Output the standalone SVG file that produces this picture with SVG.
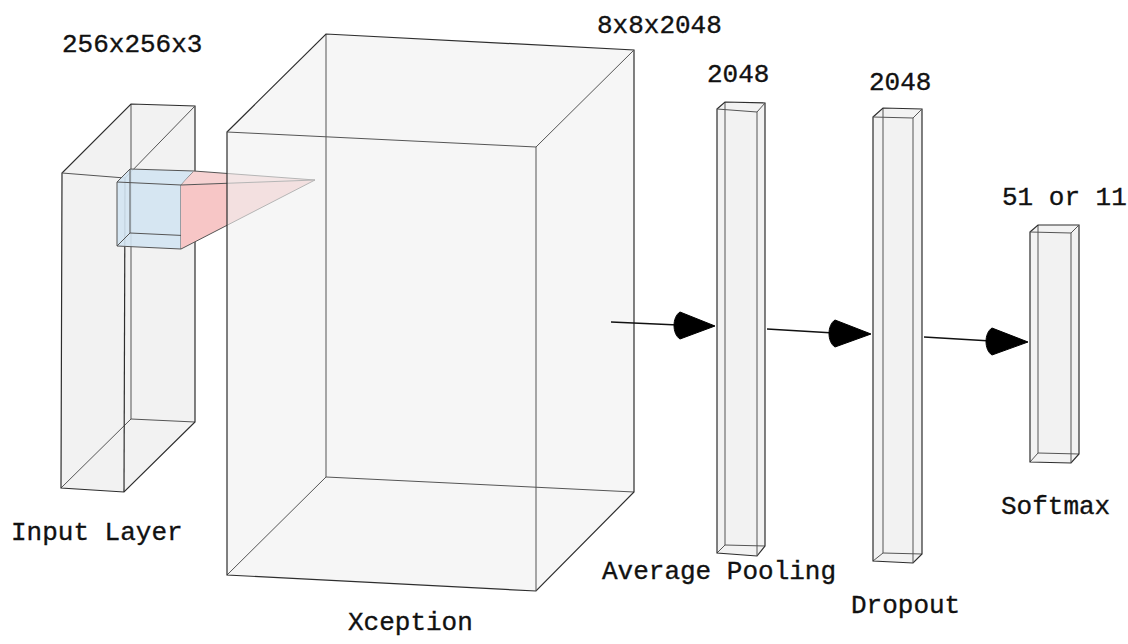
<svg xmlns="http://www.w3.org/2000/svg" width="1128" height="644" viewBox="0 0 1128 644">
  <style>
    .hull { fill: #f2f2f2; stroke: none; }
    .edge { fill: none; stroke: #555; stroke-width: 1; }
    .edge-front { fill: none; stroke: #2e2e2e; stroke-width: 1.2; }
    .label { font-family: "Liberation Mono", "DejaVu Sans Mono", monospace; font-size: 26px; fill: #111; stroke: #111; stroke-width: 0.35; }
    .conn { stroke: #111; stroke-width: 1.3; fill: none; }
    .head { fill: #000; stroke: #000; stroke-width: 1; stroke-linejoin: round; }
  </style>
  <rect width="1128" height="644" fill="#ffffff"/>

  <!-- Input layer block -->
  <g id="input-layer">
    <polygon class="hull" points="62,173 131,104 195,106 195,422 124,492 61,488"/>
    <polyline class="edge" points="131,104 131,419 61,488"/>
    <line class="edge" x1="131" y1="419" x2="195" y2="422"/>
    <polygon class="edge-front" points="131,104 195,106 195,422 124,492 61,488 62,173"/>
    <line class="edge" x1="62" y1="173" x2="125" y2="178"/>
    <line class="edge" x1="125" y1="178" x2="195" y2="106"/>
    <line class="edge-front" x1="125" y1="178" x2="124" y2="492"/>
    <text class="label" x="62" y="52">256x256x3</text>
    <text class="label" x="11" y="540">Input Layer</text>
  </g>

  <!-- Convolution window (blue kernel cube) -->
  <g id="kernel">
    <polygon points="117,182 130,169 194,171 194,236 181,249 117,246" fill="#d3e4f2" fill-opacity="0.9"/>
    <polyline class="edge" points="130,169 130,233 117,246" stroke="#8a8a8a"/>
    <line class="edge" x1="130" y1="233" x2="194" y2="236" stroke="#8a8a8a"/>
    <polygon class="edge" points="117,182 181,185 181,249 117,246"/>
    <polyline class="edge" points="117,182 130,169 194,171 181,185"/>
    <line class="edge" x1="194" y1="171" x2="194" y2="236"/>
    <line class="edge" x1="194" y1="236" x2="181" y2="249"/>
  </g>

  <!-- Receptive field projection -->
  <g id="projection">
    <polygon points="181,185 194,171 315,180" fill="#f6d2d2"/>
    <polygon points="181,185 315,180 181,249" fill="#f7c6c6"/>
    <line class="edge" x1="181" y1="185" x2="315" y2="180"/>
    <line class="edge" x1="194" y1="171" x2="315" y2="180"/>
    <line class="edge" x1="181" y1="249" x2="315" y2="180"/>
  </g>

  <!-- Xception feature block -->
  <g id="xception">
    <polygon points="227,132 326,34 634,50 634,492 536,591 227,575" fill="#f1f1f1" fill-opacity="0.62"/>
    <polyline class="edge" points="326,34 326,477 227,575"/>
    <line class="edge" x1="326" y1="477" x2="634" y2="492"/>
    <polygon class="edge-front" points="227,132 326,34 634,50 634,492 536,591 227,575"/>
    <line class="edge" x1="227" y1="132" x2="536" y2="147"/>
    <line class="edge" x1="536" y1="147" x2="634" y2="50"/>
    <line class="edge" x1="536" y1="147" x2="536" y2="591"/>
    <text class="label" x="597" y="33">8x8x2048</text>
    <text class="label" x="348" y="630">Xception</text>
  </g>

  <!-- Average pooling vector -->
  <g id="average-pooling">
    <polygon class="hull" points="717,109 725,102 765,103 765,546 757,556 717,553"/>
    <polyline class="edge" points="725,102 725,545 717,553"/>
    <line class="edge" x1="725" y1="545" x2="765" y2="546"/>
    <polygon class="edge-front" points="717,109 725,102 765,103 765,546 757,556 717,553"/>
    <line class="edge" x1="717" y1="109" x2="757" y2="112"/>
    <line class="edge" x1="757" y1="112" x2="765" y2="103"/>
    <line class="edge" x1="757" y1="112" x2="757" y2="556"/>
    <text class="label" x="707" y="82">2048</text>
    <text class="label" x="602" y="579">Average Pooling</text>
  </g>

  <!-- Dropout vector -->
  <g id="dropout">
    <polygon class="hull" points="873,117 883,108 922,109 922,554 913,563 873,561"/>
    <polyline class="edge" points="883,108 883,553 873,561"/>
    <line class="edge" x1="883" y1="553" x2="922" y2="554"/>
    <polygon class="edge-front" points="873,117 883,108 922,109 922,554 913,563 873,561"/>
    <line class="edge" x1="873" y1="117" x2="913" y2="118"/>
    <line class="edge" x1="913" y1="118" x2="922" y2="109"/>
    <line class="edge" x1="913" y1="118" x2="913" y2="563"/>
    <text class="label" x="869" y="90">2048</text>
    <text class="label" x="851" y="613">Dropout</text>
  </g>

  <!-- Softmax output -->
  <g id="softmax">
    <polygon class="hull" points="1030,232 1038,225 1079,225 1079,454 1071,463 1030,462"/>
    <polyline class="edge" points="1038,225 1038,453 1030,462"/>
    <line class="edge" x1="1038" y1="453" x2="1079" y2="454"/>
    <polygon class="edge-front" points="1030,232 1038,225 1079,225 1079,454 1071,463 1030,462"/>
    <line class="edge" x1="1030" y1="232" x2="1071" y2="233"/>
    <line class="edge" x1="1071" y1="233" x2="1079" y2="225"/>
    <line class="edge" x1="1071" y1="233" x2="1071" y2="463"/>
    <text class="label" x="1002" y="205">51 or 11</text>
    <text class="label" x="1001" y="514">Softmax</text>
  </g>

  <!-- Connectors -->
  <g id="connectors">
    <line class="conn" x1="611" y1="322" x2="678" y2="325"/>
    <path class="head" d="M715,326 L680,312 C672,317 672,334 680,339 Z"/>
    <line class="conn" x1="767" y1="329" x2="834" y2="333"/>
    <path class="head" d="M871,334 L835,320 C827,325 827,342 835,347 Z"/>
    <line class="conn" x1="924" y1="337" x2="991" y2="341"/>
    <path class="head" d="M1028,342 L992,328 C984,333 984,350 992,355 Z"/>
  </g>
</svg>
